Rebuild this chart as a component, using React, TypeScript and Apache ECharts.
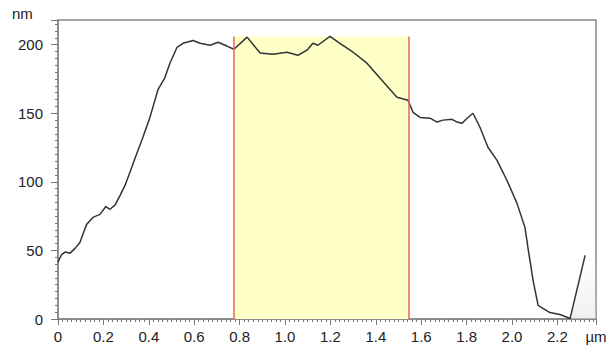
import React, { useEffect, useRef } from "react";
import * as echarts from "echarts";

// Profile: position (µm) and height (nm)
const xPos: number[] = [
  0.0, 0.016, 0.031, 0.053, 0.075, 0.097, 0.11, 0.126, 0.156, 0.185, 0.211, 0.229, 0.251, 0.273,
  0.295, 0.317, 0.339, 0.374, 0.405, 0.44, 0.471, 0.493, 0.524, 0.551, 0.595, 0.626, 0.67, 0.705,
  0.744, 0.775, 0.833, 0.89, 0.947, 1.009, 1.057, 1.097, 1.123, 1.145, 1.198, 1.242, 1.3, 1.361,
  1.419, 1.493, 1.542, 1.564, 1.595, 1.639, 1.67, 1.696, 1.736, 1.758, 1.78, 1.802, 1.828, 1.859,
  1.894, 1.934, 1.978, 2.022, 2.057, 2.07, 2.093, 2.115, 2.167, 2.211, 2.256, 2.322,
];
const heights: number[] = [
  41.5, 47, 48.8, 48, 51.5, 56, 62, 69, 74.3, 76.3, 82, 80, 83, 90,
  97.4, 107, 117, 132.5, 147, 167, 176, 186.5, 198, 201, 203, 201, 199.6, 201.8,
  199, 196.7, 205.5, 194, 193, 194.5, 192.3, 196, 201, 199.6, 206, 201, 194.5, 186.5,
  175.5, 161.7, 159.5, 150.7, 147, 146.4, 143.6, 145, 145.6, 143.6, 142.7, 146.4, 150, 139.8,
  125.2, 115.7, 101, 84.3, 66.8, 52.2, 28, 10, 4.7, 3.3, 0.4, 46.4,
];

// Selected region (µm) and its top (nm)
const regionStart = 0.775;
const regionEnd = 1.547;
const regionTop = 206;

// Faint grey shading at the lower right
const shadeX: number[] = [2.256, 2.322, 2.37];
const shadeY: number[] = [0, 46.4, 46.4];

const xMax = 2.37;
const yMax = 218;
const xTickStep = 0.2;
const yTickStep = 50;

export default function App() {
  const ref = useRef<HTMLDivElement>(null);

  useEffect(() => {
    document.body.style.margin = "0";
    if (!ref.current) return;
    const chart = echarts.init(ref.current, undefined, { renderer: "svg" });
    const font = "'Liberation Sans', Arial, sans-serif";
    const profile = xPos.map((x, i) => [x, heights[i]]);
    const shade = shadeX.map((x, i) => [x, shadeY[i]]);

    chart.setOption({
      animation: false,
      backgroundColor: "#ffffff",
      grid: {
        left: 58,
        right: 16,
        top: 20,
        bottom: 28,
        show: true,
        borderColor: "#888",
        borderWidth: 1.5,
        backgroundColor: "transparent",
      },
      xAxis: {
        type: "value",
        min: 0,
        max: xMax,
        interval: xTickStep,
        axisLine: { show: true, lineStyle: { color: "#888", width: 1.5 } },
        axisTick: { show: true, inside: false, length: 6, lineStyle: { color: "#777" } },
        minorTick: { show: true, splitNumber: 10, length: 3, lineStyle: { color: "#777" } },
        splitLine: { show: false },
        axisLabel: {
          margin: 10,
          fontFamily: font,
          fontSize: 15,
          color: "#222",
          formatter: (v: number) =>
            Math.abs(v - xMax) < 1e-6 ? "µm" : v === 0 ? "0" : v.toFixed(1),
        },
      },
      yAxis: {
        type: "value",
        min: 0,
        max: yMax,
        interval: yTickStep,
        axisLine: { show: true, lineStyle: { color: "#888", width: 1.5 } },
        axisTick: { show: true, inside: false, length: 7, lineStyle: { color: "#777" } },
        minorTick: { show: true, splitNumber: 10, length: 3, lineStyle: { color: "#777" } },
        splitLine: { show: false },
        axisLabel: {
          margin: 15,
          fontFamily: font,
          fontSize: 15,
          color: "#222",
          formatter: (v: number) => (Math.abs(v - yMax) < 1e-6 ? "" : String(v)),
        },
      },
      graphic: [
        {
          type: "text",
          left: 12,
          top: 6,
          style: { text: "nm", fontFamily: font, fontSize: 15, fill: "#222" },
        },
      ],
      series: [
        {
          type: "line",
          data: shade,
          showSymbol: false,
          silent: true,
          z: 1,
          lineStyle: { width: 0 },
          areaStyle: {
            color: new echarts.graphic.LinearGradient(0, 0, 0, 1, [
              { offset: 0, color: "rgba(220,220,220,0)" },
              { offset: 1, color: "rgba(220,220,220,0.6)" },
            ]),
          },
        },
        {
          type: "line",
          data: profile,
          showSymbol: false,
          silent: true,
          z: 3,
          lineStyle: { color: "#333", width: 1.5 },
          markArea: {
            silent: true,
            itemStyle: { color: "#ffffc8" },
            data: [[{ coord: [regionStart, 0] }, { coord: [regionEnd, regionTop] }]],
          },
          markLine: {
            silent: true,
            symbol: "none",
            label: { show: false },
            lineStyle: { color: "#e8655a", width: 1.5, type: "solid" },
            data: [
              [{ coord: [regionStart, 0] }, { coord: [regionStart, regionTop] }],
              [{ coord: [regionEnd, 0] }, { coord: [regionEnd, regionTop] }],
            ],
          },
        },
      ],
    });

    return () => chart.dispose();
  }, []);

  return <div ref={ref} style={{ width: 612, height: 347 }} />;
}
